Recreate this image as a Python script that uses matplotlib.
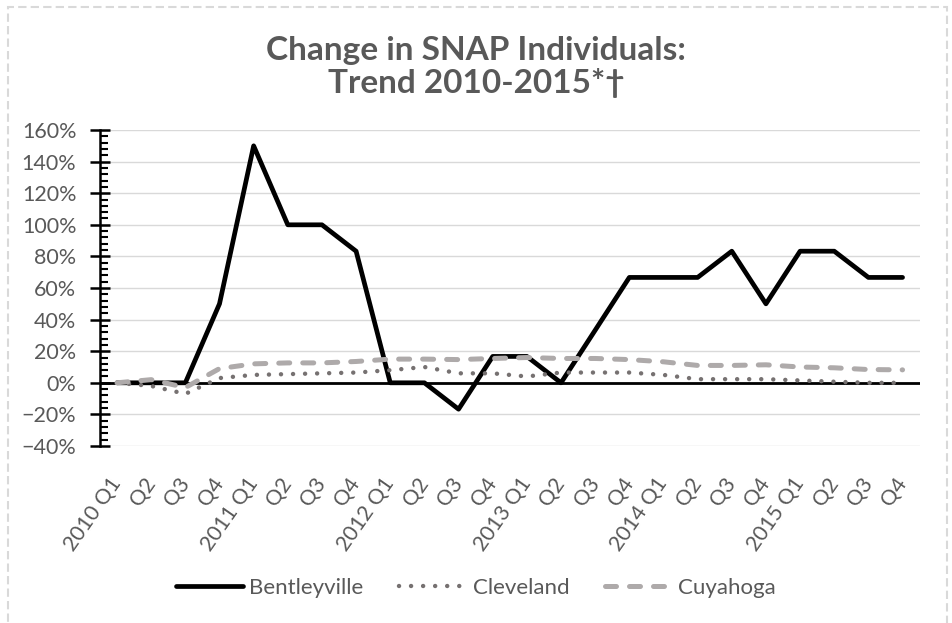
import matplotlib.pyplot as plt
from matplotlib.patches import Rectangle
from matplotlib.ticker import MultipleLocator, PercentFormatter
import numpy as np

plt.rcParams['font.family'] = ['Lato', 'DejaVu Sans']

quarters = ["2010 Q1", "Q2", "Q3", "Q4",
            "2011 Q1", "Q2", "Q3", "Q4",
            "2012 Q1", "Q2", "Q3", "Q4",
            "2013 Q1", "Q2", "Q3", "Q4",
            "2014 Q1", "Q2", "Q3", "Q4",
            "2015 Q1", "Q2", "Q3", "Q4"]

bentleyville = [0, 0, 0, 50, 150, 100, 100, 83.3, 0, 0, -16.7, 16.7,
                16.7, 0, 33.3, 66.7, 66.7, 66.7, 83.3, 50, 83.3, 83.3, 66.7, 66.7]
cleveland = [0, -2, -7, 3, 5, 5.5, 6, 6.5, 8, 10, 6, 6,
             4, 6.5, 6.5, 6.5, 5, 2.3, 2.3, 2.3, 1.5, 0.7, 0, 0]
cuyahoga = [0, 2, -3, 9, 12, 12.6, 12.6, 13.5, 15, 15, 14.7, 15.4,
            16, 15.4, 15.4, 14.7, 13.3, 11, 11, 11.4, 10, 9.5, 8.4, 8.2]

grey_text = "#595959"

fig = plt.figure(figsize=(9.52, 6.23), dpi=100)
ax = fig.add_axes([0.105, 0.2841, 0.861, 0.5072])

x = np.arange(len(quarters))
ax.plot(x, bentleyville, color="black", lw=3.4, label="Bentleyville",
        solid_capstyle="round", zorder=3)
ax.plot(x, cleveland, color="#767171", lw=3.2, linestyle=(0, (0.01, 2.7)),
        dash_capstyle="round", label="Cleveland", zorder=4)
ax.plot(x, cuyahoga, color="#AEAAAA", lw=3.6, linestyle=(0, (2.2, 2.6)),
        dash_capstyle="round", label="Cuyahoga", zorder=5)

ax.axhline(0, color="black", lw=2, zorder=2)

ax.set_xlim(-0.5, len(quarters) - 0.5)
ax.set_ylim(-40, 160)
ax.yaxis.set_major_locator(MultipleLocator(20))
ax.yaxis.set_minor_locator(MultipleLocator(4))
ax.yaxis.set_major_formatter(PercentFormatter(decimals=0))
ax.grid(axis="y", color="#D9D9D9", lw=1)
ax.set_axisbelow(True)

for s in ["top", "right", "bottom"]:
    ax.spines[s].set_visible(False)
ax.spines["left"].set_linewidth(1.8)

ax.tick_params(axis="y", which="major", direction="inout", length=14, width=1.8,
               labelsize=15.5, labelcolor=grey_text, pad=10)
ax.tick_params(axis="y", which="minor", direction="in", length=6, width=1.5)
ax.set_xticks(x)
ax.set_xticklabels(quarters, rotation=55, ha="right", va="center",
                   rotation_mode="anchor", fontsize=15.5, color=grey_text)
ax.tick_params(axis="x", length=0, pad=24)

fig.suptitle("Change in SNAP Individuals:\nTrend 2010-2015*\u2020", y=0.943,
             fontsize=24, fontweight="bold", color=grey_text, linespacing=1.15)

fig.legend(loc="center", bbox_to_anchor=(0.5, 0.056), ncol=3, frameon=False,
           fontsize=16, labelcolor=grey_text, handlelength=3.0,
           columnspacing=1.6, handletextpad=0.3)

fig.patches.append(Rectangle((8 / 952, -0.05), 939 / 952, 1.05 - 7 / 623,
                             transform=fig.transFigure, fill=False,
                             edgecolor="#D9D9D9", lw=1.5, linestyle=(0, (4, 2))))

fig.savefig("out.png", dpi=100)
